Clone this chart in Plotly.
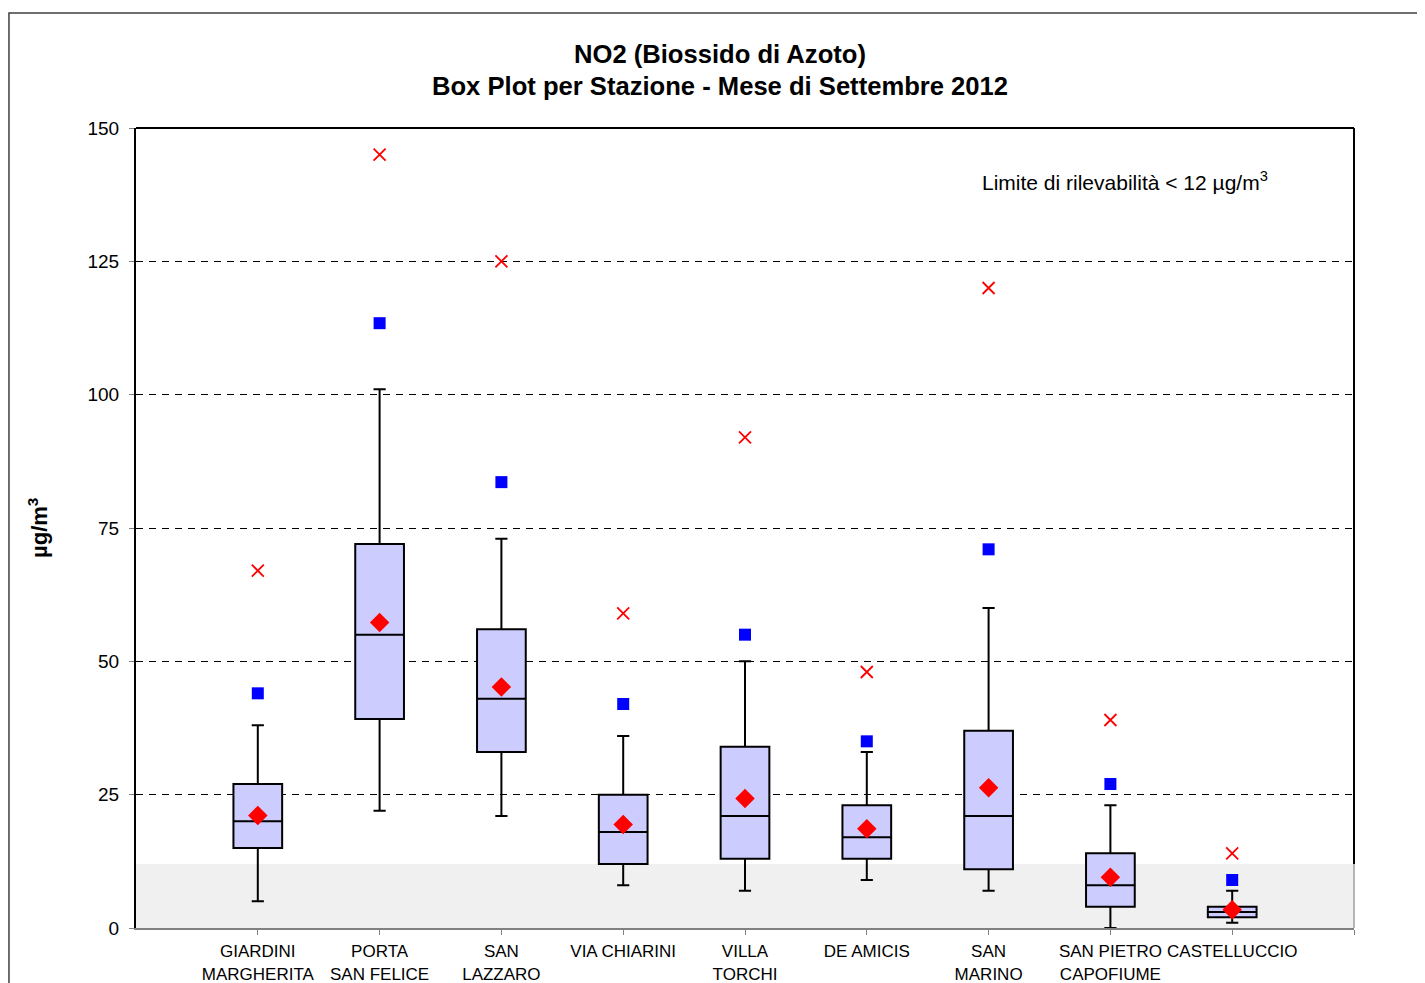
import plotly.graph_objects as go

stations = ["GIARDINI<br>MARGHERITA", "PORTA<br>SAN FELICE", "SAN<br>LAZZARO", "VIA CHIARINI",
            "VILLA<br>TORCHI", "DE AMICIS", "SAN<br>MARINO", "SAN PIETRO<br>CAPOFIUME", "CASTELLUCCIO"]
positions = [1, 2, 3, 4, 5, 6, 7, 8, 9]
whisker_low = [5, 22, 21, 8, 7, 9, 7, 0, 1]
q1 = [15, 39.2, 33, 12, 13, 13, 11, 4, 2]
median = [20, 55, 43, 18, 21, 17, 21, 8, 3]
q3 = [27, 72, 56, 25, 34, 23, 37, 14, 4]
whisker_high = [38, 101, 73, 36, 50, 33, 60, 23, 7]
mean = [21.1, 57.3, 45.2, 19.4, 24.3, 18.6, 26.3, 9.5, 3.4]
p98 = [44, 113.4, 83.6, 42, 55, 35, 71, 27, 9]
maximum = [67, 145, 125, 59, 92, 48, 120, 39, 14]
y_ticks = [0, 25, 50, 75, 100, 125, 150]
detection_limit = 12

fig = go.Figure()

fig.add_trace(go.Box(
    x=positions, q1=q1, median=median, q3=q3,
    lowerfence=whisker_low, upperfence=whisker_high,
    boxpoints=False, width=0.4, whiskerwidth=0.25,
    fillcolor="#ccccff", line=dict(color="black", width=2),
    showlegend=False, hoverinfo="skip"))

fig.add_trace(go.Scatter(x=positions, y=maximum, mode="markers",
    marker=dict(symbol="x-thin", size=12, line=dict(color="#ff0000", width=1.8)),
    showlegend=False))
fig.add_trace(go.Scatter(x=positions, y=p98, mode="markers",
    marker=dict(symbol="square", size=12, color="#0000ff"), showlegend=False))
fig.add_trace(go.Scatter(x=positions, y=mean, mode="markers",
    marker=dict(symbol="diamond", size=15, color="#ff0000"), showlegend=False))

font_family = "Liberation Sans, Arial, sans-serif"

# page has an 8px body margin; figure is sized/offset to compensate
fig.update_layout(
    width=1417, height=975,
    margin=dict(l=128, r=71, t=120, b=55),
    paper_bgcolor="white", plot_bgcolor="white",
    font=dict(family=font_family, color="black"),
    showlegend=False,
    xaxis=dict(range=[0, 10], tickvals=positions + [10], ticktext=stations + [""],
               ticks="outside", ticklen=5, tickcolor="#808080", ticklabelstandoff=2,
               showline=True, linecolor="#808080", linewidth=2, automargin=False,
               showgrid=False, zeroline=False, tickfont=dict(size=17)),
    yaxis=dict(range=[0, 150], tickvals=y_ticks, ticks="outside", ticklen=5,
               tickcolor="#808080", showline=True, linecolor="black", linewidth=2,
               showgrid=True, gridcolor="black", griddash="7px,6px", gridwidth=1,
               zeroline=False, tickfont=dict(size=19), ticklabelstandoff=6, automargin=False),
)

fig.add_shape(type="rect", xref="paper", yref="y", x0=0, x1=1, y0=0, y1=detection_limit,
              fillcolor="#f0f0f0", line=dict(width=0), layer="below")
# top and right frame of plot area
fig.add_shape(type="line", xref="paper", yref="paper", x0=0, x1=1, y0=1, y1=1,
              line=dict(color="black", width=2))
fig.add_shape(type="line", xref="paper", yref="y", x0=1, x1=1, y0=detection_limit, y1=150,
              line=dict(color="black", width=2))
fig.add_shape(type="line", xref="paper", yref="y", x0=1, x1=1, y0=0, y1=detection_limit,
              line=dict(color="#a0a0a0", width=1.5))
# outer chart border
fig.add_shape(type="rect", xref="paper", yref="paper", x0=-0.1043, x1=1.08, y0=-0.12, y1=1.1437,
              line=dict(color="#404040", width=1.5), fillcolor="rgba(0,0,0,0)")

fig.add_annotation(xref="paper", yref="paper", x=0.4795, y=1.0925, yanchor="middle",
                   text="<b>NO2 (Biossido di Azoto)</b>", showarrow=False, font=dict(size=25.6))
fig.add_annotation(xref="paper", yref="paper", x=0.4795, y=1.0525, yanchor="middle",
                   text="<b>Box Plot per Stazione - Mese di Settembre 2012</b>", showarrow=False,
                   font=dict(size=25.6))
fig.add_annotation(xref="paper", yref="y", x=0.812, y=140, xanchor="center", yanchor="middle",
                   text="Limite di rilevabilità < 12 µg/m<sup>3</sup>", showarrow=False,
                   font=dict(size=21))
fig.add_annotation(xref="paper", yref="paper", x=-0.0805, y=0.5, xanchor="center", yanchor="middle",
                   text="<b>µg/m<sup>3</sup></b>", textangle=-90, showarrow=False,
                   font=dict(size=22))

fig.write_html("out.html")
